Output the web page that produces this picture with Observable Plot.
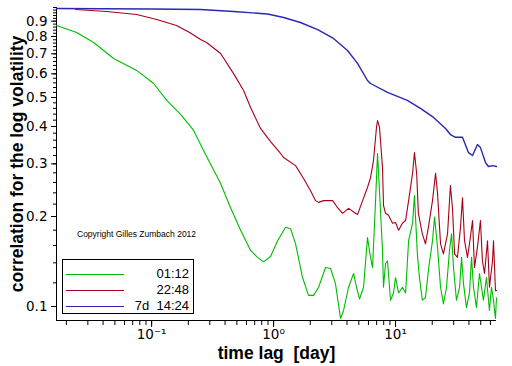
<!DOCTYPE html>
<html>
<head>
<meta charset="utf-8">
<script src="https://cdn.jsdelivr.net/npm/d3@7"></script>
<script src="https://cdn.jsdelivr.net/npm/@observablehq/plot@0.6"></script>
<style>
  html, body { margin: 0; padding: 0; background: #fff; }
  #wrap { position: relative; width: 512px; height: 366px; overflow: hidden; }
  g[aria-label="x-axis label"] text, g[aria-label="y-axis label"] text {
    font-family: "Liberation Sans", Arial, sans-serif; font-weight: bold; font-size: 17.5px;
  }
  .legend { position: absolute; left: 62px; top: 259px; width: 130px; height: 53px;
    border: 1px solid #000; background: #fff; font-family: "Liberation Sans", Arial, sans-serif; font-size: 13px; }
  .legend .row { position: absolute; left: 0; width: 130px; height: 16px; }
  .legend .sw { position: absolute; left: 3px; width: 58px; top: 8px; height: 0; border-top: 1px solid; }
  .legend .lb { position: absolute; right: 4px; top: 0; white-space: pre; line-height: 16px; }
  .copy { position: absolute; left: 77px; top: 229px; font-family: "Liberation Sans", Arial, sans-serif; font-size: 8.5px; color: #000; white-space: nowrap; }
</style>
</head>
<body>
<div id="wrap"></div>
<script>
// ---- data (lag in days, correlation) ----
const seriesNames = ["01:12", "22:48", "7d  14:24"];
const seriesColors = ["#00bc00", "#a80018", "#2828b0"];

const green = [[0.0166,0.871],[0.0243,0.825],[0.0335,0.764],[0.0488,0.675],[0.0754,0.616],[0.104,0.557],[0.133,0.489],[0.173,0.439],[0.221,0.388],[0.267,0.332],[0.368,0.258],[0.444,0.214],[0.537,0.180],[0.648,0.154],[0.739,0.146],[0.828,0.141],[0.945,0.147],[1.079,0.166],[1.254,0.184],[1.379,0.182],[1.515,0.162],[1.728,0.125],[1.935,0.109],[2.13,0.109],[2.34,0.116],[2.67,0.135],[2.93,0.134],[3.22,0.119],[3.54,0.0912],[3.75,0.0970],[4.12,0.116],[4.53,0.129],[4.79,0.116],[5.07,0.106],[5.47,0.116],[5.89,0.170],[6.24,0.146],[6.48,0.135],[6.86,0.226],[7.12,0.325],[7.53,0.210],[7.82,0.154],[7.97,0.116],[8.28,0.139],[8.60,0.142],[9.10,0.105],[9.63,0.111],[10.0,0.125],[10.6,0.111],[11.4,0.116],[12.1,0.111],[12.8,0.166],[13.8,0.190],[14.3,0.235],[15.1,0.150],[15.7,0.125],[16.6,0.105],[17.6,0.107],[18.6,0.132],[20.1,0.166],[20.9,0.199],[22.1,0.158],[23.4,0.116],[24.7,0.102],[26.2,0.116],[27.7,0.154],[28.8,0.175],[29.9,0.135],[31.6,0.105],[33.5,0.116],[34.8,0.146],[36.1,0.119],[38.2,0.0992],[40.4,0.111],[42.0,0.146],[43.6,0.116],[46.1,0.0992],[48.8,0.129],[50.7,0.116],[52.6,0.105],[55.7,0.125],[58.9,0.097],[61.2,0.116],[63.6,0.105],[66.0,0.0912],[67.3,0.107]];

const red = [[0.0238,0.985],[0.0428,0.970],[0.0754,0.947],[0.110,0.912],[0.160,0.871],[0.205,0.825],[0.252,0.782],[0.282,0.764],[0.368,0.702],[0.470,0.601],[0.568,0.528],[0.648,0.463],[0.782,0.394],[0.945,0.356],[1.141,0.325],[1.208,0.315],[1.515,0.296],[1.762,0.268],[2.01,0.244],[2.21,0.226],[2.34,0.223],[2.57,0.226],[3.05,0.226],[3.35,0.214],[3.68,0.205],[4.12,0.213],[4.70,0.205],[4.88,0.203],[5.37,0.226],[5.89,0.250],[6.24,0.270],[6.60,0.308],[6.98,0.397],[7.12,0.419],[7.39,0.397],[7.82,0.292],[7.97,0.218],[8.28,0.205],[8.76,0.202],[9.45,0.190],[10.0,0.191],[10.6,0.180],[11.4,0.190],[12.1,0.194],[12.8,0.226],[13.8,0.279],[14.3,0.327],[14.9,0.279],[15.4,0.205],[16.6,0.175],[17.6,0.162],[18.6,0.184],[20.1,0.226],[21.3,0.279],[22.1,0.239],[23.4,0.162],[24.7,0.150],[26.7,0.175],[28.2,0.254],[29.3,0.214],[30.5,0.150],[32.2,0.146],[34.1,0.184],[35.4,0.231],[36.8,0.166],[38.9,0.146],[40.4,0.162],[42.8,0.194],[44.4,0.135],[47.0,0.158],[49.7,0.194],[51.6,0.142],[53.7,0.129],[56.8,0.166],[58.9,0.116],[62.4,0.142],[63.6,0.166],[66.0,0.113],[67.3,0.113]];

const blue = [[0.0166,0.992],[0.0382,0.990],[0.098,0.988],[0.252,0.985],[0.470,0.970],[0.893,0.951],[1.21,0.926],[1.66,0.891],[2.30,0.844],[3.10,0.788],[4.04,0.718],[4.88,0.650],[5.89,0.570],[6.24,0.557],[8.60,0.520],[12.5,0.489],[16.0,0.460],[20.5,0.429],[25.7,0.394],[28.2,0.376],[31.0,0.368],[35.4,0.368],[39.7,0.327],[42.8,0.320],[47.0,0.348],[49.7,0.340],[54.7,0.303],[57.8,0.294],[62.4,0.296],[67.3,0.294]];

const xDomain = [0.0166, 67.3];
const yDomain = [0.0898, 1.0];
const xMajorTicks = [0.1, 1, 10];
const xMajorLabels = ["10\u207B\u00B9", "10\u2070", "10\u00B9"];
const yMajorTicks = [0.1, 0.2, 0.3, 0.4, 0.5, 0.6, 0.7, 0.8, 0.9];
const yMajorLabels = ["0.1", "0.2", "0.3", "0.4", "0.5", "0.6", "0.7", "0.8", "0.9"];

// minor ticks
const yMinorTicks = d3.range(10, 101, 2).map(k => k / 100);
const xMinorTicks = [];
for (const dec of [0.01, 0.1, 1, 10]) for (let k = 1; k <= 9; k++) {
  const v = k * dec;
  if (v >= xDomain[0] && v <= xDomain[1]) xMinorTicks.push(v);
}

const allSeries = [green, red, blue];

const chart = Plot.plot({
  width: 512, height: 366,
  marginLeft: 56, marginRight: 16, marginTop: 7, marginBottom: 46,
  x: {type: "log", domain: xDomain},
  y: {type: "log", domain: yDomain},
  style: {fontFamily: "DejaVu Sans, sans-serif", fontSize: "13.5px", background: "#fff", color: "#000", overflow: "visible"},
  marks: [
    Plot.axisY(yMinorTicks, {tickSize: 3, tickFormat: () => "", label: null}),
    Plot.axisY(yMajorTicks, {tickSize: 5, tickFormat: () => "",
      label: "correlation for the log volatility", labelAnchor: "center", labelOffset: 46, labelArrow: "none"}),
    Plot.text(yMajorTicks, {y: d => d, text: (d, i) => yMajorLabels[i], frameAnchor: "left", dx: -9, textAnchor: "end", fontSize: 13.5}),
    Plot.axisX(xMinorTicks, {tickSize: 5, tickFormat: () => "", label: null}),
    Plot.axisX(xMajorTicks, {tickSize: 7, tickPadding: 2,
      tickFormat: d => xMajorLabels[xMajorTicks.indexOf(d)],
      label: "time lag  [day]", labelAnchor: "center", labelOffset: 38, labelArrow: "none"}),
    Plot.ruleX([xDomain[0]], {stroke: "#000"}),
    Plot.ruleY([yDomain[0]], {stroke: "#000"}),
    ...allSeries.map((s, i) => Plot.line(s, {x: d => d[0], y: d => d[1], stroke: seriesColors[i], strokeWidth: i === 2 ? 1.4 : 1.1}))
  ]
});

const wrap = document.getElementById("wrap");
wrap.appendChild(chart);

const copy = document.createElement("div");
copy.className = "copy";
copy.textContent = "Copyright Gilles Zumbach 2012";
wrap.appendChild(copy);

const legend = document.createElement("div");
legend.className = "legend";
seriesNames.forEach((name, i) => {
  const row = document.createElement("div");
  row.className = "row";
  row.style.top = (6 + i * 16) + "px";
  const sw = document.createElement("div");
  sw.className = "sw";
  sw.style.borderTopColor = seriesColors[i];
  const lb = document.createElement("div");
  lb.className = "lb";
  lb.textContent = name;
  row.appendChild(sw); row.appendChild(lb);
  legend.appendChild(row);
});
wrap.appendChild(legend);
</script>
</body>
</html>
